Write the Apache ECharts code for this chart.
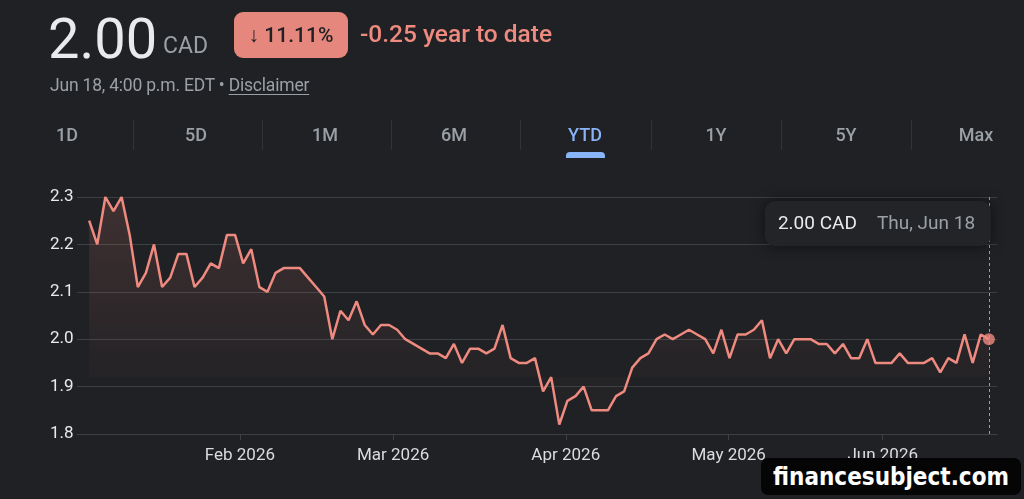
<!DOCTYPE html>
<html>
<head>
<meta charset="utf-8">
<script src="https://cdn.jsdelivr.net/npm/echarts@6/dist/echarts.min.js"></script>
<style>
  html, body { margin: 0; padding: 0; background: #202124; }
  body { width: 1024px; height: 499px; position: relative; overflow: hidden; font-family: Roboto, "Noto Sans", sans-serif; }
  #chart { position: absolute; left: 0; top: 0; width: 1024px; height: 499px; }
  .abs { position: absolute; white-space: nowrap; line-height: 1; }
  .price { left: 48px; top: 11px; font-size: 56px; color: #e8eaed; }
  .cur { left: 163px; top: 34px; font-size: 23px; color: #9aa0a6; }
  .badge { left: 234px; top: 12px; width: 114px; height: 46px; border-radius: 9px; background: #e6877e;
           color: #202124; font-size: 21px; font-weight: 500; display: flex; align-items: center; justify-content: center; }
  .chg { left: 360px; top: 22px; font-size: 24.5px; font-weight: 500; color: #ee8a7f; }
  .sub { left: 50px; top: 77px; font-size: 17.5px; color: #9aa0a6; letter-spacing: -0.2px; }
  .sub u { text-underline-offset: 3px; }
  .tab { top: 126px; font-size: 18px; font-weight: 500; color: #9aa0a6; transform: translateX(-50%); }
  .tab.on { color: #8ab4f8; }
  .sep { position: absolute; top: 120px; width: 1px; height: 30px; background: #313336; }
  .ul { position: absolute; left: 566px; top: 152px; width: 39px; height: 6px; background: #8ab4f8; border-radius: 4px 4px 0 0; }
  .wm { position: absolute; left: 761px; top: 458px; width: 260px; height: 37px; background: #050505; border-radius: 7px;
        color: #fff; font-family: "DejaVu Sans Condensed", "DejaVu Sans", sans-serif; font-weight: bold; font-size: 24px;
        display: flex; align-items: center; justify-content: center; }
</style>
</head>
<body>
<div id="chart"></div>

<div class="abs price">2.00</div>
<div class="abs cur">CAD</div>
<div class="abs badge">↓ 11.11%</div>
<div class="abs chg">-0.25 year to date</div>
<div class="abs sub">Jun 18, 4:00 p.m. EDT • <u>Disclaimer</u></div>

<div id="tabs"></div>
<div class="ul"></div>

<div class="wm">financesubject.com</div>

<script>
// closing prices, one per trading day, Jan -> Jun 18
const prices = [
  2.25, 2.20, 2.30, 2.27, 2.30, 2.22, 2.11, 2.14, 2.20, 2.11,
  2.13, 2.18, 2.18, 2.11, 2.13, 2.16, 2.15, 2.22, 2.22, 2.16,
  2.19, 2.11, 2.10, 2.14, 2.15, 2.15, 2.15, 2.13, 2.11, 2.09,
  2.00, 2.06, 2.04, 2.08, 2.03, 2.01, 2.03, 2.03, 2.02, 2.00,
  1.99, 1.98, 1.97, 1.97, 1.96, 1.99, 1.95, 1.98, 1.98, 1.97,
  1.98, 2.03, 1.96, 1.95, 1.95, 1.96, 1.89, 1.92, 1.82, 1.87,
  1.88, 1.90, 1.85, 1.85, 1.85, 1.88, 1.89, 1.94, 1.96, 1.97,
  2.00, 2.01, 2.00, 2.01, 2.02, 2.01, 2.00, 1.97, 2.02, 1.96,
  2.01, 2.01, 2.02, 2.04, 1.96, 2.00, 1.97, 2.00, 2.00, 2.00,
  1.99, 1.99, 1.97, 1.99, 1.96, 1.96, 2.00, 1.95, 1.95, 1.95,
  1.97, 1.95, 1.95, 1.95, 1.96, 1.93, 1.96, 1.95, 2.01, 1.95,
  2.01, 2.00
];

// month boundaries, in trading-day index units
const monthPos = [18.6, 37.5, 58.8, 78.9, 97.9];
const monthLabels = ['Feb 2026', 'Mar 2026', 'Apr 2026', 'May 2026', 'Jun 2026'];

const tabs = ['1D', '5D', '1M', '6M', 'YTD', '1Y', '5Y', 'Max'];
const tabX = [67, 196, 325, 454, 585, 716, 846, 976];
const sepX = [133, 262, 391, 520, 651, 781, 911];

const lastDate = 'Thu, Jun 18';
const currency = 'CAD';

// tabs row
const tabsEl = document.getElementById('tabs');
tabs.forEach((t, i) => {
  const d = document.createElement('div');
  d.className = 'abs tab' + (t === 'YTD' ? ' on' : '');
  d.style.left = tabX[i] + 'px';
  d.textContent = t;
  tabsEl.appendChild(d);
});
sepX.forEach(x => {
  const s = document.createElement('div');
  s.className = 'sep';
  s.style.left = x + 'px';
  tabsEl.appendChild(s);
});

const red = '#ee8a7f';
const lastIdx = prices.length - 1;
const lineData = prices.map((v, i) => [i, v]);

const chart = echarts.init(document.getElementById('chart'));
chart.setOption({
  backgroundColor: 'transparent',
  animation: false,
  grid: { left: 77, right: 27, top: 197, bottom: 65 },
  xAxis: {
    type: 'value',
    min: -1.5,
    max: 112,
    splitLine: { show: false },
    axisLine: { show: true, lineStyle: { color: '#3c4043', width: 1 } },
    axisTick: { show: true, length: 6, customValues: monthPos, lineStyle: { color: '#3c4043' } },
    axisLabel: {
      customValues: monthPos,
      color: '#dadce0',
      fontSize: 17,
      margin: 13,
      fontFamily: 'Roboto',
      formatter: v => {
        const k = monthPos.findIndex(p => Math.abs(p - v) < 0.01);
        return k >= 0 ? monthLabels[k] : '';
      }
    }
  },
  yAxis: {
    type: 'value',
    min: 1.8,
    max: 2.3,
    interval: 0.1,
    axisLine: { show: false },
    axisTick: { show: false },
    splitLine: { lineStyle: { color: '#3c4043', width: 1 } },
    axisLabel: {
      color: '#e8eaed',
      fontSize: 17,
      fontFamily: 'Roboto',
      align: 'left',
      margin: 27,
      formatter: v => v.toFixed(1)
    }
  },
  series: [
    {
      type: 'line',
      data: lineData,
      showSymbol: false,
      lineStyle: { color: red, width: 2.5 },
      areaStyle: {
        origin: 1.92,
        color: new echarts.graphic.LinearGradient(0, 197, 0, 377, [
          { offset: 0, color: 'rgba(242,139,130,0.22)' },
          { offset: 1, color: 'rgba(242,139,130,0.03)' }
        ], true)
      },
      markLine: {
        silent: true,
        symbol: 'none',
        label: { show: false },
        lineStyle: { color: '#9aa0a6', type: [3, 3], width: 1 },
        data: [{ xAxis: lastIdx }]
      },
      z: 3
    },
    {
      type: 'scatter',
      data: [[lastIdx, prices[lastIdx]]],
      symbolSize: 12,
      itemStyle: { color: red },
      z: 5
    }
  ]
});

// hover-style label box for the last point
const tip = chart.convertToPixel({ gridIndex: 0 }, [lastIdx, 2.3]);
const boxRight = tip[0] + 2;
const boxW = 226;
chart.setOption({
  graphic: [
    {
      type: 'rect',
      shape: { x: boxRight - boxW, y: 201, width: boxW, height: 45, r: 10 },
      style: { fill: '#232427', shadowBlur: 14, shadowColor: 'rgba(0,0,0,0.55)' },
      z: 10
    },
    {
      type: 'text',
      x: boxRight - boxW + 13, y: 224,
      style: { text: prices[lastIdx].toFixed(2) + ' ' + currency, fill: '#e8eaed', font: '19px Roboto', verticalAlign: 'middle' },
      z: 11
    },
    {
      type: 'text',
      x: boxRight - boxW + 112, y: 224,
      style: { text: lastDate, fill: '#9aa0a6', font: '19px Roboto', verticalAlign: 'middle' },
      z: 11
    }
  ]
});
</script>
</body>
</html>
